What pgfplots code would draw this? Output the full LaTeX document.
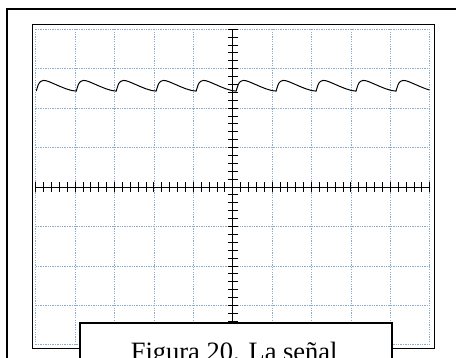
\documentclass[border=0pt]{standalone}
\usepackage{pgfplots}
\pgfplotsset{compat=1.18}
\usepackage{fontspec}
\setmainfont{Liberation Serif}
\definecolor{gridblue}{RGB}{140,172,205}
\begin{document}
\begin{tikzpicture}
\clip (-232.7pt,187pt) rectangle (223.3pt,-171pt);
\fill[white] (-232.7pt,187pt) rectangle (223.3pt,-171pt);
% outer frame
\draw[black, line width=2pt] (-225.2pt,177.5pt) rectangle (260pt,-220pt);
% inner box
\draw[gray!60, line width=1pt] (-199.7pt,162pt) rectangle (202.3pt,-162pt);
\draw[black, line width=0.9pt] (-200.7pt,163pt) rectangle (201.3pt,-161pt);
\begin{axis}[
  anchor=origin, at={(0pt,0pt)},
  x=39.4pt, y=39.46pt,
  xmin=-5, xmax=5, ymin=-4, ymax=4,
  axis lines=center,
  axis line style={-, black, line width=0.8pt},
  every inner x axis line/.append style={-},
  every inner y axis line/.append style={-},
  xtick={-5,-4,...,5}, ytick={-4,-3,...,4},
  minor x tick num=4, minor y tick num=4,
  xticklabels={}, yticklabels={},
  tick align=center,
  major tick length=10pt, minor tick length=10pt,
  tick style={black, line width=0.8pt},
  grid=major,
  major grid style={gridblue, line width=0.7pt, dash pattern=on 1.3pt off 1.1pt},
]
\addplot[black, line width=1pt] coordinates {
(-4.985,2.43) (-4.965,2.50) (-4.935,2.59) (-4.905,2.645) (-4.865,2.68) (-4.805,2.70) (-4.745,2.695) (-4.665,2.67) (-4.535,2.615) (-4.385,2.55) (-4.235,2.49) (-4.085,2.445)
(-3.970,2.43) (-3.950,2.50) (-3.920,2.59) (-3.890,2.645) (-3.850,2.68) (-3.790,2.70) (-3.730,2.695) (-3.650,2.67) (-3.520,2.615) (-3.370,2.55) (-3.220,2.49) (-3.070,2.445)
(-2.956,2.43) (-2.936,2.50) (-2.906,2.59) (-2.876,2.645) (-2.836,2.68) (-2.776,2.70) (-2.716,2.695) (-2.636,2.67) (-2.506,2.615) (-2.356,2.55) (-2.206,2.49) (-2.056,2.445)
(-1.942,2.43) (-1.922,2.50) (-1.892,2.59) (-1.862,2.645) (-1.822,2.68) (-1.762,2.70) (-1.702,2.695) (-1.622,2.67) (-1.492,2.615) (-1.342,2.55) (-1.192,2.49) (-1.042,2.445)
(-0.927,2.43) (-0.907,2.50) (-0.877,2.59) (-0.847,2.645) (-0.807,2.68) (-0.747,2.70) (-0.687,2.695) (-0.607,2.67) (-0.477,2.615) (-0.327,2.55) (-0.177,2.49) (-0.027,2.445)
(0.088,2.43) (0.108,2.50) (0.138,2.59) (0.168,2.645) (0.208,2.68) (0.268,2.70) (0.328,2.695) (0.408,2.67) (0.538,2.615) (0.688,2.55) (0.838,2.49) (0.988,2.445)
(1.102,2.43) (1.122,2.50) (1.152,2.59) (1.182,2.645) (1.222,2.68) (1.282,2.70) (1.342,2.695) (1.422,2.67) (1.552,2.615) (1.702,2.55) (1.852,2.49) (2.002,2.445)
(2.117,2.43) (2.137,2.50) (2.167,2.59) (2.197,2.645) (2.237,2.68) (2.297,2.70) (2.357,2.695) (2.437,2.67) (2.567,2.615) (2.717,2.55) (2.867,2.49) (3.017,2.445)
(3.131,2.43) (3.151,2.50) (3.181,2.59) (3.211,2.645) (3.251,2.68) (3.311,2.70) (3.371,2.695) (3.451,2.67) (3.581,2.615) (3.731,2.55) (3.881,2.49) (4.031,2.445)
(4.146,2.43) (4.166,2.50) (4.196,2.59) (4.226,2.645) (4.266,2.68) (4.326,2.70) (4.386,2.695) (4.466,2.67) (4.596,2.615) (4.746,2.55) (4.896,2.49) (5.0,2.455)
};
\end{axis}
% caption box
\draw[black, line width=2pt, fill=white] (-152.7pt,-135.7pt) rectangle (159.6pt,-200pt);
\node[anchor=base, inner sep=0pt, font=\fontsize{26.5pt}{30pt}\selectfont] at (1.5pt,-173.2pt) {Figura 20. La señal};
\end{tikzpicture}
\end{document}
